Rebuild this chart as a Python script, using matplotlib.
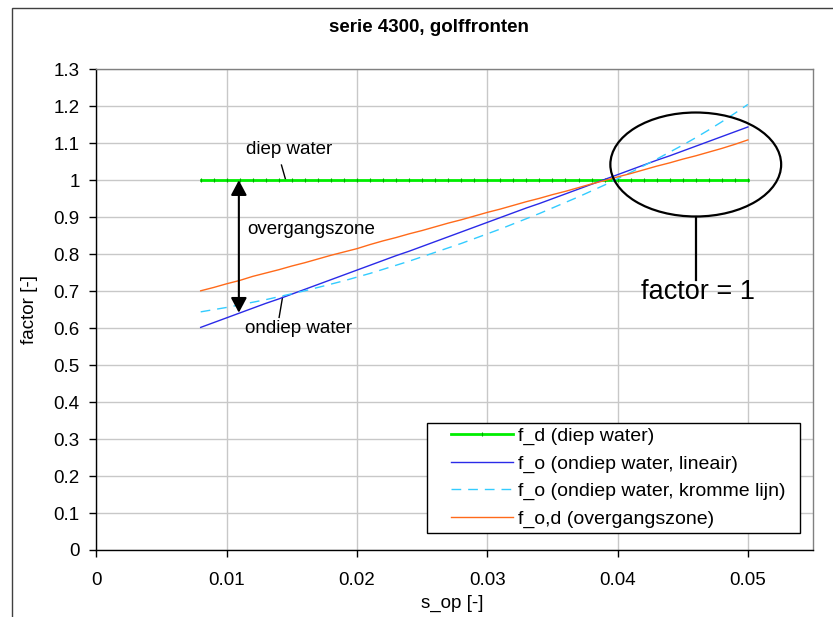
import matplotlib
matplotlib.use("Agg")
import matplotlib.pyplot as plt
from matplotlib.patches import Ellipse, Rectangle

s_op = [0.008, 0.009, 0.010, 0.011, 0.012, 0.013, 0.014, 0.015, 0.016, 0.017,
        0.018, 0.019, 0.020, 0.021, 0.022, 0.023, 0.024, 0.025, 0.026, 0.027,
        0.028, 0.029, 0.030, 0.031, 0.032, 0.033, 0.034, 0.035, 0.036, 0.037,
        0.038, 0.039, 0.040, 0.041, 0.042, 0.043, 0.044, 0.045, 0.046, 0.047,
        0.048, 0.049, 0.050]

f_d = [1.0] * 43

f_o_lin = [0.602, 0.615, 0.628, 0.641, 0.654, 0.667, 0.679, 0.692, 0.705, 0.718,
           0.731, 0.744, 0.757, 0.770, 0.783, 0.796, 0.808, 0.821, 0.834, 0.847,
           0.860, 0.873, 0.886, 0.899, 0.912, 0.925, 0.937, 0.950, 0.963, 0.976,
           0.989, 1.002, 1.015, 1.028, 1.041, 1.054, 1.066, 1.079, 1.092, 1.105,
           1.118, 1.131, 1.144]

f_o_krom = [0.644, 0.650, 0.656, 0.663, 0.670, 0.677, 0.685, 0.693, 0.701, 0.710,
            0.719, 0.728, 0.738, 0.748, 0.759, 0.770, 0.781, 0.793, 0.805, 0.817,
            0.829, 0.842, 0.855, 0.868, 0.882, 0.896, 0.910, 0.925, 0.940, 0.955,
            0.971, 0.987, 1.004, 1.021, 1.039, 1.057, 1.076, 1.095, 1.115, 1.136,
            1.158, 1.181, 1.205]

f_od = [0.701, 0.710, 0.720, 0.729, 0.740, 0.749, 0.758, 0.768, 0.777, 0.787,
        0.797, 0.806, 0.815, 0.826, 0.836, 0.845, 0.855, 0.864, 0.874, 0.884,
        0.893, 0.903, 0.913, 0.922, 0.932, 0.942, 0.951, 0.961, 0.970, 0.980,
        0.990, 0.999, 1.009, 1.018, 1.028, 1.038, 1.047, 1.057, 1.066, 1.076,
        1.086, 1.097, 1.109]

labels = ["f_d (diep water)", "f_o (ondiep water, lineair)",
          "f_o (ondiep water, kromme lijn)", "f_o,d (overgangszone)"]

x_ticks = [0, 0.01, 0.02, 0.03, 0.04, 0.05]
x_ticklabels = ["0", "0.01", "0.02", "0.03", "0.04", "0.05"]
y_ticks = [0, 0.1, 0.2, 0.3, 0.4, 0.5, 0.6, 0.7, 0.8, 0.9, 1.0, 1.1, 1.2, 1.3]
y_ticklabels = ["0", "0.1", "0.2", "0.3", "0.4", "0.5", "0.6", "0.7", "0.8",
                "0.9", "1", "1.1", "1.2", "1.3"]

plt.rcParams['font.family'] = ['Liberation Sans', 'DejaVu Sans']
FS = 13.5

fig = plt.figure(figsize=(8.33, 6.17), dpi=100)
fig.patch.set_facecolor('white')
ax = fig.add_axes([0.1158, 0.1086, 0.976 - 0.1158, 0.8877 - 0.1086])

# outer chart border
fig.patches.append(Rectangle((12 / 833, -0.2), 1.2, 1 - 8 / 617 + 0.2,
                             transform=fig.transFigure, fill=False,
                             edgecolor='#404040', linewidth=1.0))

ax.plot(s_op, f_d, color='#00ee00', lw=2.0, marker='|', markersize=2.5,
        markeredgecolor='#00aa00', markeredgewidth=0.8, label=labels[0], zorder=3)
ax.plot(s_op, f_o_lin, color='#2a2ae8', lw=1.0, label=labels[1], zorder=4)
ax.plot(s_op, f_o_krom, color='#33ccff', lw=1.0, dashes=(7, 5), label=labels[2], zorder=4)
ax.plot(s_op, f_od, color='#ff6a1a', lw=1.0, label=labels[3], zorder=4)

ax.set_xlim(0, 0.055)
ax.set_ylim(0, 1.3)
ax.set_xticks(x_ticks)
ax.set_xticklabels(x_ticklabels)
ax.set_yticks(y_ticks)
ax.set_yticklabels(y_ticklabels)
ax.tick_params(axis='both', direction='out', length=5, width=1, labelsize=FS,
               color='black')
ax.tick_params(axis='x', pad=11)
ax.tick_params(axis='y', pad=7)
ax.grid(True, color='#c8c8c8', lw=1.0)
ax.set_axisbelow(True)
for sp in ['left', 'bottom']:
    ax.spines[sp].set_color('black')
    ax.spines[sp].set_linewidth(1.0)
for sp in ['top', 'right']:
    ax.spines[sp].set_color('#808080')
    ax.spines[sp].set_linewidth(1.0)

# legend frame drawn separately, legend itself frameless
ax.add_patch(Rectangle((0.4613, 0.0354), 0.5206, 0.2286, transform=ax.transAxes,
                       facecolor='white', edgecolor='black', lw=1.0, zorder=5))
leg = ax.legend(loc='upper left', bbox_to_anchor=(0.4948, 0.255), borderaxespad=0,
                fontsize=14, frameon=False, handlelength=3.2, numpoints=1,
                handletextpad=0.26, labelspacing=0.5, borderpad=0)
leg.set_zorder(6)

# annotations
ax.text(0.01146, 1.084, "diep water", fontsize=FS, va='center', ha='left')
ax.plot([0.0142, 0.01453], [1.041, 1.0], color='black', lw=1.0)
ax.text(0.0116, 0.867, "overgangszone", fontsize=FS, va='center', ha='left')
ax.text(0.01139, 0.598, "ondiep water", fontsize=FS, va='center', ha='left')
ax.plot([0.01428, 0.01402], [0.683, 0.629], color='black', lw=1.0)
ax.annotate("", xy=(0.01093, 1.0), xytext=(0.01093, 0.6417),
            arrowprops=dict(arrowstyle='<|-|>,head_length=0.45,head_width=0.24',
                            mutation_scale=20, color='black', lw=1.5,
                            shrinkA=0, shrinkB=0), zorder=6)
ax.add_patch(Ellipse((0.0460, 1.0425), 0.01311, 0.2812, fill=False,
                     edgecolor='black', lw=1.6, zorder=6))
ax.plot([0.04603, 0.04603], [0.901, 0.730], color='black', lw=1.6, zorder=6)
ax.text(0.0462, 0.6985, "factor = 1", fontsize=19.5, va='center', ha='center')

fig.text(429 / 833, 1 - 27 / 617, "serie 4300, golffronten", fontsize=13.5,
         fontweight='bold', ha='center', va='center')
fig.text(30 / 833, 1 - 310 / 617, "factor [-]", fontsize=FS, rotation=90,
         ha='center', va='center')
fig.text(452 / 833, 1 - 603 / 617, "s_op [-]", fontsize=FS, ha='center', va='center')

fig.savefig("out.png", dpi=100)
